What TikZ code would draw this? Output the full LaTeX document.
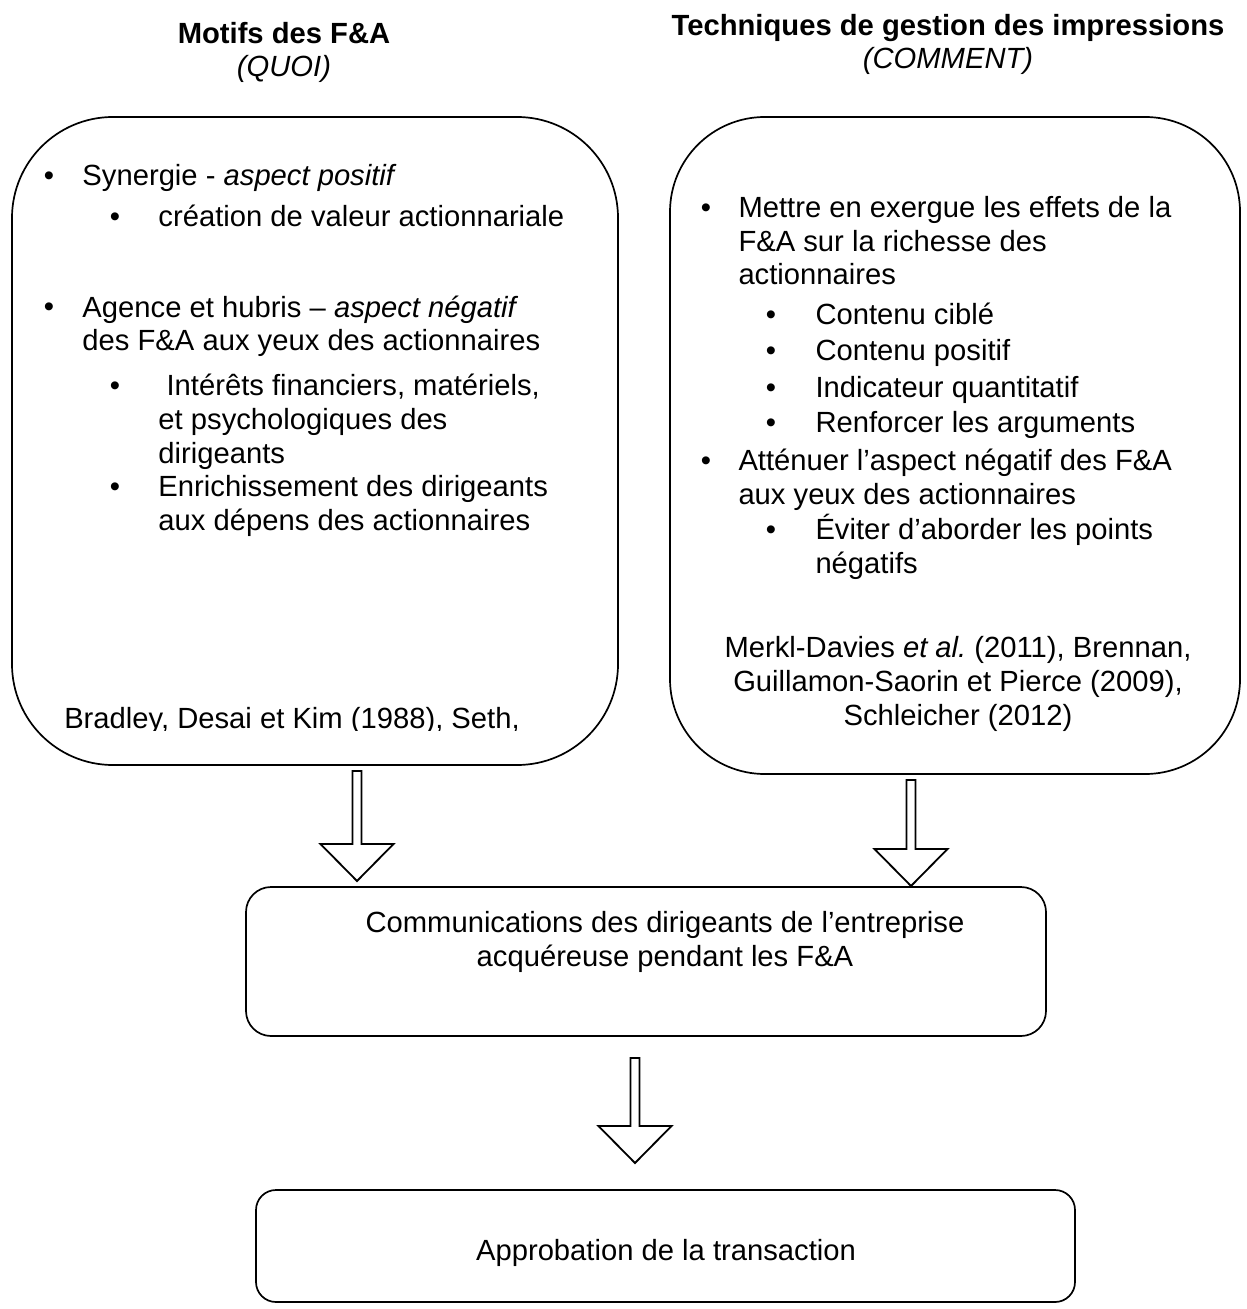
\documentclass[tikz,border=0pt]{standalone}
\usepackage{fontspec}
\setmainfont{Liberation Sans}
\usetikzlibrary{calc}

\tikzset{
  txt/.style={inner sep=0pt, font={\fontsize{12}{13.8}\selectfont}, align=left, anchor=base west},
  ctr/.style={inner sep=0pt, font={\fontsize{12}{13.8}\selectfont}, align=center, anchor=base},
  bul/.style={inner sep=0pt, font={\fontsize{12}{13.8}\selectfont}, anchor=base},
  cbox/.style={draw, line width=0.7pt, inner sep=0pt},
  hollow/.style={draw, line width=0.75pt, line join=miter}
}

% block arrow: shaft from #1, tip at #2
\newcommand\hollowarrow[2]{%
  \draw[hollow] let \p1=(#1), \p2=(#2) in
    (\x1-1.85pt,\y1) -- (\x1+1.85pt,\y1) -- (\x1+1.85pt,\y2+15.2pt)
    -- (\x1+15pt,\y2+15.2pt) -- (\x1,\y2) -- (\x1-15pt,\y2+15.2pt)
    -- (\x1-1.85pt,\y2+15.2pt) -- cycle;}

\begin{document}
\begin{tikzpicture}[x=0.411pt,y=-0.411pt]
  \useasboundingbox (0,0) rectangle (1246,1309);

  % titles (base = last line)
  \node[ctr] (tmotifs) at (284,77) {\textbf{Motifs des F\&A}\\\textit{(QUOI)}};
  \node[ctr] (ttech) at (948,69) {\textbf{Techniques de gestion des impressions}\\\textit{(COMMENT)}};

  % boxes
  \node[cbox, minimum width=249.07pt, minimum height=266.33pt, rounded corners=41.5pt] (motifs) at (315,441) {};
  \node[cbox, minimum width=234.27pt, minimum height=270.03pt, rounded corners=39pt] (techniques) at (955,445.5) {};
  \node[cbox, minimum width=328.8pt, minimum height=61.24pt, rounded corners=10.3pt] (comm) at (646,961.5) {};
  \node[cbox, minimum width=336.6pt, minimum height=46.03pt, rounded corners=8.2pt] (approb) at (665.5,1246) {};

  % left box
  \node[bul] (mb1) at (49,186) {•};
  \node[txt] (m1) at (82,186) {Synergie - \textit{aspect positif}};
  \node[bul] (mb2) at (115,227) {•};
  \node[txt] (m2) at (158,227) {création de valeur actionnariale};
  \node[bul] (mb3) at (49,317) {•};
  \node[txt] (m3) at (82,351) {Agence et hubris – \textit{aspect négatif}\\des F\&A aux yeux des actionnaires};
  \node[bul] (mb4) at (115,396) {•};
  \node[txt] (m4) at (158,463) {\hspace*{0.278em}Intérêts financiers, matériels,\\et psychologiques des\\dirigeants};
  \node[bul] (mb5) at (115,496) {•};
  \node[txt] (m5) at (158,530) {Enrichissement des dirigeants\\aux dépens des actionnaires};
  \begin{scope}
    \clip (12,600) rectangle (618,730);
    \node[ctr] (mref) at (292,728) {Bradley, Desai et Kim (1988), Seth,};
  \end{scope}

  % right box
  \node[bul] (tb0) at (706,218) {•};
  \node[txt] (t0) at (738,285) {Mettre en exergue les effets de la\\F\&A sur la richesse des\\actionnaires};
  \foreach \t [count=\i] in {Contenu ciblé, Contenu positif, Indicateur quantitatif, Renforcer les arguments}
  {
    \node[bul] (tb\i) at (771,289+36*\i) {•};
    \node[txt] (t\i) at (815,289+36*\i) {\t};
  }
  \node[bul] (tb5) at (706,470) {•};
  \node[txt] (t5) at (738,504) {Atténuer l’aspect négatif des F\&A\\aux yeux des actionnaires};
  \node[bul] (tb6) at (771,539) {•};
  \node[txt] (t6) at (815,573) {Éviter d’aborder les points\\négatifs};
  \node[ctr] (tref) at (958,725) {Merkl-Davies \textit{et al.}\ (2011), Brennan,\\Guillamon-Saorin et Pierce (2009),\\Schleicher (2012)};

  % bottom boxes
  \node[ctr] (ctxt) at (665,966) {Communications des dirigeants de l’entreprise\\acquéreuse pendant les F\&A};
  \node[ctr] (atxt) at (666,1260) {Approbation de la transaction};

  % arrows
  \coordinate (q1) at (357,771);  \coordinate (p1) at (357,881);
  \coordinate (q2) at (911,780);  \coordinate (p2) at (911,886);
  \coordinate (q3) at (635,1058); \coordinate (p3) at (635,1163);
  \hollowarrow{q1}{p1}
  \hollowarrow{q2}{p2}
  \hollowarrow{q3}{p3}
\end{tikzpicture}
\end{document}
